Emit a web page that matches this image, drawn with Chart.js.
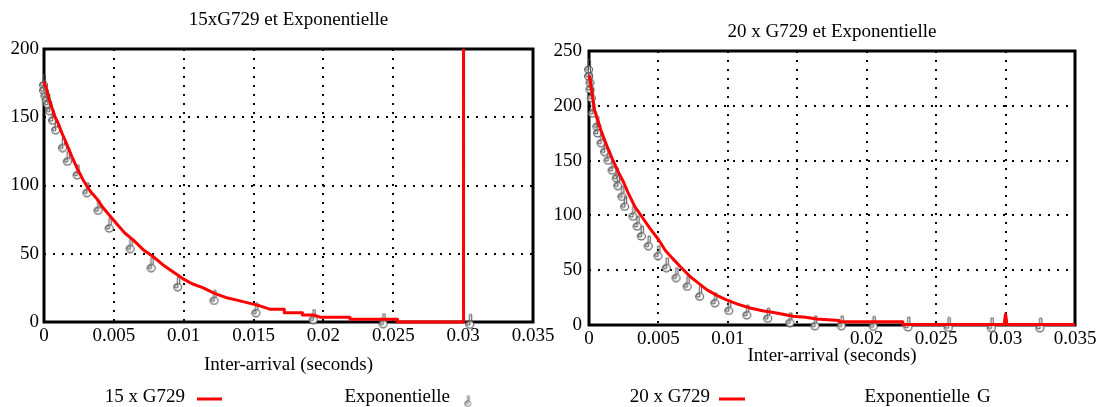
<!DOCTYPE html>
<html>
<head>
<meta charset="utf-8">
<title>Inter-arrivées G729</title>
<script src="https://cdn.jsdelivr.net/npm/chart.js@4.4.1/dist/chart.umd.min.js"></script>
<style>
  body { margin: 0; background: #fff; width: 1098px; height: 407px; position: relative; overflow: hidden; }
  #g15 { position: absolute; left: 0; top: 0; }
  #g20 { position: absolute; left: 550px; top: 0; }
</style>
</head>
<body>
<canvas id="g15" width="560" height="407"></canvas>
<canvas id="g20" width="548" height="407"></canvas>
<script>
// 15 x G729 : histogramme mesuré (secondes, nombre)
const t15 = [0, 0.0002, 0.0004, 0.0006, 0.0008, 0.001, 0.0013, 0.0016, 0.002, 0.0024, 0.0028, 0.0033,
  0.0038, 0.0042, 0.0047, 0.0052, 0.0058, 0.0064, 0.0071, 0.0078, 0.0085, 0.0092, 0.0099, 0.0106,
  0.0114, 0.0122, 0.013, 0.0138, 0.0146, 0.0154, 0.0162, 0.0172, 0.0172, 0.0185, 0.0185, 0.0193,
  0.0198, 0.0219, 0.0219, 0.0253, 0.0253, 0.0300, 0.0300, 0.03006];
const n15 = [176, 170, 162, 156, 150, 146, 138, 131, 121, 112, 104, 96,
  90, 84, 78, 72, 65, 60, 53, 48, 42, 37, 32, 28,
  25, 21, 18, 16, 14, 12, 9.3, 9.3, 6.8, 6.8, 5.1, 5.1,
  3.4, 3.4, 2, 2, 0, 0, 400, 0];

// 15 x G729 : loi exponentielle
const tExp15 = [0, 0, 0.0001, 0.0002, 0.0003, 0.00043, 0.00064, 0.00086, 0.00136, 0.0017, 0.0024,
  0.0031, 0.0039, 0.0047, 0.0062, 0.0077, 0.0096, 0.0122, 0.0152, 0.0193, 0.0243, 0.0305];
const nExp15 = [176, 172, 168, 165, 162, 157, 150, 143, 130, 120, 110,
  97, 84, 71, 56, 42, 28, 18, 9, 4, 1, 0.5];

// 20 x G729 : histogramme mesuré
const t20 = [0, 0.0001, 0.0004, 0.0009, 0.0013, 0.0017, 0.0021, 0.0025, 0.0028, 0.0033, 0.0038, 0.0044,
  0.005, 0.0055, 0.006, 0.0066, 0.0073, 0.0079, 0.0085, 0.0092, 0.0099, 0.0107, 0.0116, 0.0125,
  0.0135, 0.0147, 0.0156, 0.0164, 0.018, 0.018, 0.0226, 0.0226, 0.0299, 0.03, 0.0301, 0.035];
const n20 = [228, 222, 196, 176, 163, 151, 140, 130, 121, 108, 99, 88,
  78, 68, 61, 53, 44, 38, 32, 27, 23, 19, 15.5, 13,
  11, 8, 7, 5.5, 4, 3, 3, 0.5, 0.5, 10, 0.5, 0.5];

// 20 x G729 : loi exponentielle
const tExp20 = [0, 0, 0.0001, 0.0001, 0.0002, 0.0003, 0.0006, 0.00065, 0.0009, 0.00115, 0.0014, 0.0017,
  0.002, 0.0021, 0.0024, 0.0026, 0.0032, 0.0035, 0.0038, 0.0043, 0.005, 0.0056, 0.0063, 0.0071,
  0.008, 0.0091, 0.0101, 0.0114, 0.0129, 0.0145, 0.0163, 0.0182, 0.0205, 0.023, 0.0259, 0.029, 0.0325];
const nExp20 = [236, 230, 224, 218, 210, 196, 184, 178, 169, 161, 153, 144,
  137, 130, 120, 111, 102, 93, 84, 75, 66, 55, 46, 38,
  29, 23, 16, 12, 9, 5, 2, 2, 1.5, 1, 0.5, 0.3, 0.1];

// graduations
const xMax = 0.035, xPas = 0.005;
const yMax15 = 200, yMax20 = 250, yPas = 50;

const police = '"Liberation Serif", "Times New Roman", serif';

function points(xs, ys) {
    return xs.map((x, i) => ({ x: x, y: ys[i] }));
}

// petit symbole "main" (doigt levé) pour la courbe exponentielle
function creerMarqueur(echelle) {
    const c = document.createElement('canvas');
    c.width = Math.ceil(11 * echelle);
    c.height = Math.ceil(15 * echelle);
    const g = c.getContext('2d');
    g.scale(echelle, echelle);
    g.strokeStyle = '#555';
    g.fillStyle = '#fff';
    g.lineWidth = 1;
    // doigt
    g.beginPath();
    g.moveTo(5, 8);
    g.lineTo(5, 2);
    g.arc(6.1, 2, 1.1, Math.PI, 0);
    g.lineTo(7.2, 8);
    g.stroke();
    // poing
    g.beginPath();
    g.ellipse(5.3, 10.8, 3.8, 3.4, 0, 0, Math.PI * 2);
    g.fill();
    g.stroke();
    // pouce
    g.beginPath();
    g.arc(4.1, 9.8, 1.6, 0, Math.PI * 2);
    g.stroke();
    return c;
}
const marqueur = creerMarqueur(1.05);
const marqueurLegende = creerMarqueur(0.8);

// cadre noir autour de la zone de tracé
const cadre = {
    id: 'cadre',
    beforeDatasetsDraw(chart) {
        const { ctx, chartArea: a } = chart;
        ctx.save();
        ctx.lineWidth = 3;
        ctx.strokeStyle = '#000';
        ctx.strokeRect(a.left, a.top, a.right - a.left, a.bottom - a.top);
        ctx.restore();
    }
};

// légende en bas : texte puis symbole
const legendeBas = {
    id: 'legendeBas',
    afterDraw(chart, args, opts) {
        const ctx = chart.ctx;
        ctx.save();
        ctx.font = '19px ' + police;
        ctx.fillStyle = '#000';
        ctx.textBaseline = 'middle';
        opts.elements.forEach(el => {
            if (el.type === 'texte') {
                ctx.textAlign = el.align || 'right';
                ctx.fillText(el.texte, el.x, el.y);
            } else if (el.type === 'ligne') {
                ctx.strokeStyle = '#ff0000';
                ctx.lineWidth = 3;
                ctx.beginPath();
                ctx.moveTo(el.x1, el.y);
                ctx.lineTo(el.x2, el.y);
                ctx.stroke();
            } else if (el.type === 'marqueur') {
                ctx.drawImage(marqueurLegende, el.x - marqueurLegende.width / 2, el.y - marqueurLegende.height / 2);
            }
        });
        ctx.restore();
    }
};

function formatTick(v, cacher) {
    const r = Math.round(v * 1000) / 1000;
    if (cacher.some(c => Math.abs(c - r) < 1e-9)) return '';
    return String(r);
}

function creerGraphique(id, cfg) {
    const ctx = document.getElementById(id).getContext('2d');
    return new Chart(ctx, {
        type: 'line',
        data: {
            datasets: [
                {
                    label: cfg.nomMesure,
                    data: points(cfg.tMesure, cfg.nMesure),
                    borderColor: '#ff0000',
                    borderWidth: 3,
                    borderJoinStyle: 'round',
                    pointRadius: 0,
                    tension: 0,
                    fill: false,
                    clip: { left: 3, top: 0, right: 3, bottom: 3 },
                },
                {
                    label: 'Exponentielle',
                    data: points(cfg.tExp, cfg.nExp),
                    showLine: false,
                    pointStyle: marqueur,
                    clip: false,
                },
            ],
        },
        options: {
            responsive: false,
            animation: false,
            events: [],
            layout: { padding: { left: 0, right: cfg.margeDroite, top: 0, bottom: 0 } },
            plugins: {
                legend: { display: false },
                tooltip: { enabled: false },
                title: {
                    display: true,
                    text: cfg.titre,
                    fullSize: false,
                    color: '#000',
                    font: { family: police, size: 19, weight: 'normal' },
                    padding: cfg.titrePadding,
                },
                legendeBas: { elements: cfg.legende },
            },
            scales: {
                x: {
                    type: 'linear',
                    min: 0,
                    max: xMax,
                    afterFit: (s) => {
                        s.height = cfg.hauteurBas;
                        s.paddingLeft = 0;
                        s.paddingRight = 0;
                    },
                    ticks: {
                        stepSize: xPas,
                        autoSkip: false,
                        maxRotation: 0,
                        minRotation: 0,
                        padding: 3,
                        color: '#000',
                        font: { family: police, size: 19 },
                        callback: (v) => formatTick(v, cfg.ticksCaches),
                    },
                    grid: { color: '#000', lineWidth: 2, drawTicks: false },
                    border: { display: false, dash: [2, 7] },
                    title: {
                        display: true,
                        text: 'Inter-arrival (seconds)',
                        color: '#000',
                        font: { family: police, size: 19 },
                        padding: { top: 0, bottom: cfg.titreXBas },
                    },
                },
                y: {
                    min: 0,
                    max: cfg.yMax,
                    afterFit: (s) => { s.width = cfg.largeurGauche; },
                    ticks: {
                        stepSize: yPas,
                        padding: cfg.ecartY,
                        color: '#000',
                        font: { family: police, size: 19 },
                    },
                    grid: { color: '#000', lineWidth: 2, drawTicks: false },
                    border: { display: false, dash: [2, 7] },
                },
            },
        },
        plugins: [cadre, legendeBas],
    });
}

document.addEventListener('DOMContentLoaded', () => {
    creerGraphique('g15', {
        titre: '15xG729 et Exponentielle',
        nomMesure: '15 x G729',
        tMesure: t15, nMesure: n15,
        tExp: tExp15, nExp: nExp15,
        yMax: yMax15,
        ticksCaches: [],
        margeDroite: 27,
        largeurGauche: 44,
        ecartY: 5,
        hauteurBas: 85,
        titreXBas: 30.6,
        titrePadding: { top: 8.6, bottom: 17.6 },
        legende: [
            { type: 'texte', texte: '15 x G729', x: 185, y: 397 },
            { type: 'ligne', x1: 197, x2: 222, y: 399 },
            { type: 'texte', texte: 'Exponentielle', x: 450, y: 397 },
            { type: 'marqueur', x: 468, y: 401 },
        ],
    });

    creerGraphique('g20', {
        titre: '20 x G729 et Exponentielle',
        nomMesure: '20 x G729',
        tMesure: t20, nMesure: n20,
        tExp: tExp20, nExp: nExp20,
        yMax: yMax20,
        ticksCaches: [0.015],
        margeDroite: 23,
        largeurGauche: 39,
        ecartY: 7,
        hauteurBas: 82,
        titreXBas: 39.6,
        titrePadding: { top: 20.6, bottom: 7.6 },
        legende: [
            { type: 'texte', texte: '20 x G729', x: 160, y: 397 },
            { type: 'ligne', x1: 169, x2: 195, y: 399 },
            { type: 'texte', texte: 'Exponentielle', x: 420, y: 397 },
            { type: 'texte', texte: 'G', x: 427, y: 397, align: 'left' },
        ],
    });
});
</script>
</body>
</html>
